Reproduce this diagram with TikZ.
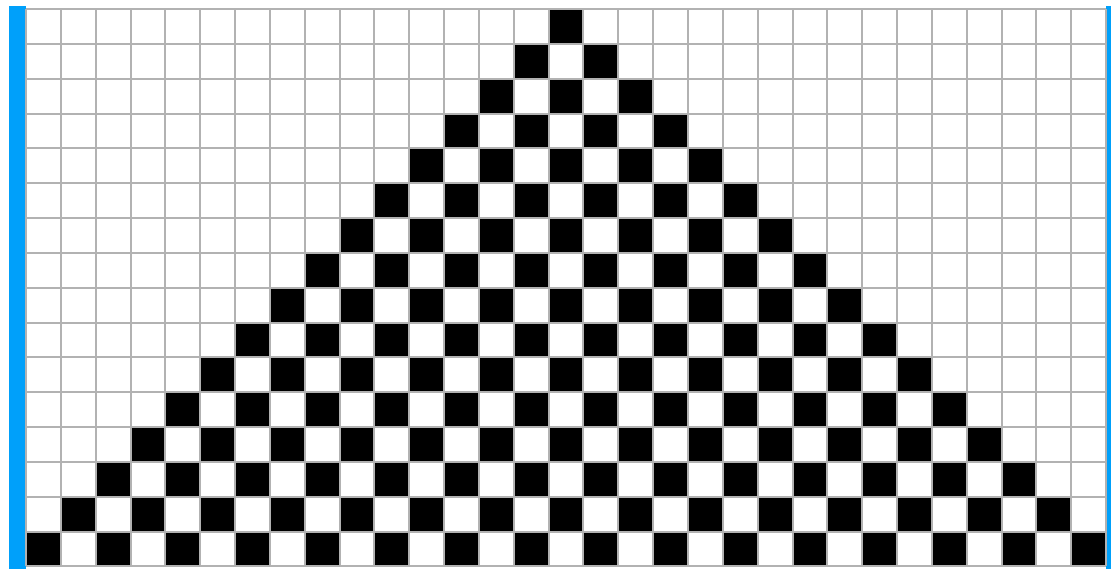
\documentclass[tikz,border=0pt]{standalone}
\usepackage{tikz}
\definecolor{barblue}{RGB}{0,160,250}
\begin{document}
\begin{tikzpicture}[x=0.8cm, y=0.8cm]
\useasboundingbox (-0.746,-0.086) rectangle (31.14,16.258);
% side bars
\fill[barblue] (-0.488,-0.086) rectangle (0,16.086);
\fill[barblue] (31,-0.086) rectangle (31.14,16.086);
% black cells, row r counted from the top
\foreach \r in {0,...,15}
  \foreach \k in {0,...,\r}
    \fill[black] (15-\r+2*\k,15-\r) rectangle ++(1,1);
% grid
\draw[gray!60, line width=1.3pt, step=0.8cm] (0,0) grid (31,16);
\end{tikzpicture}
\end{document}
